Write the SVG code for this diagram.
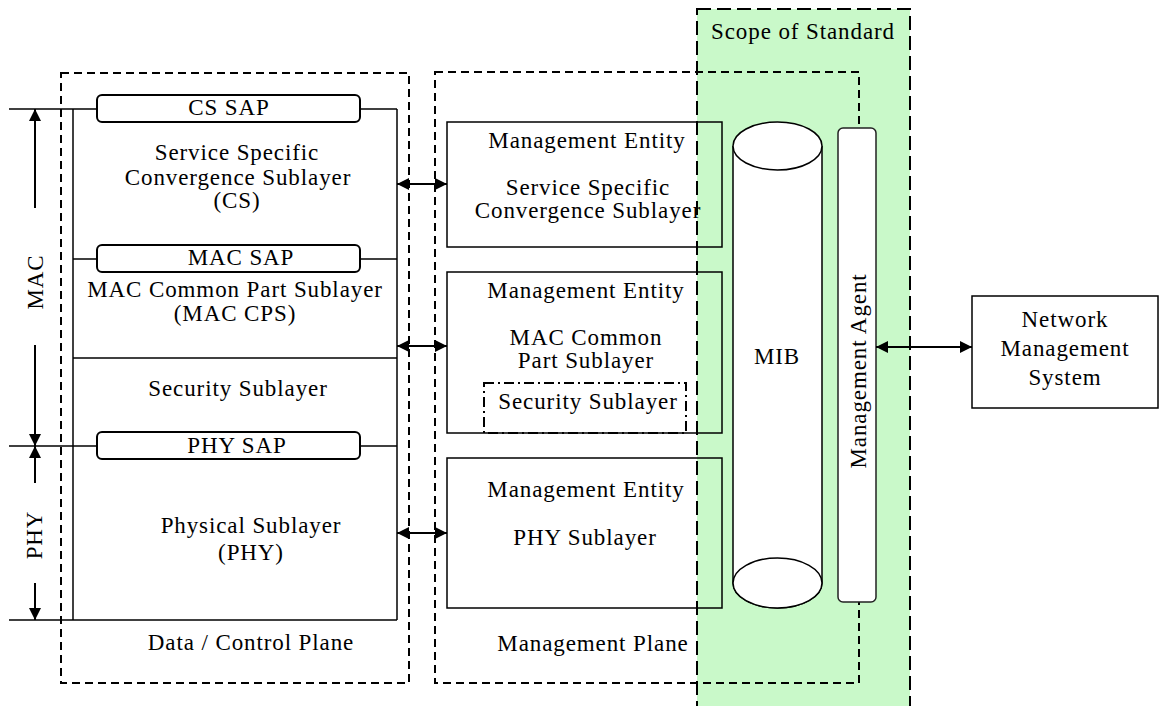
<svg xmlns="http://www.w3.org/2000/svg" width="1159" height="706" viewBox="0 0 1159 706">
<style>
text{font-family:"Liberation Serif","Times New Roman",serif;font-size:23px;letter-spacing:0.9px;fill:#000;text-anchor:middle}
.thin{fill:none;stroke:#000;stroke-width:1.5}
.box{fill:none;stroke:#000;stroke-width:1.5}
.sap{fill:#fff;stroke:#000;stroke-width:2}
.dash{fill:none;stroke:#000;stroke-width:2;stroke-dasharray:8 5}
.scope{fill:#c9f9c9;stroke:#000;stroke-width:2;stroke-dasharray:14 6}
.conn{stroke:#000;stroke-width:2;fill:none}
</style>
<defs>
<marker id="ah" viewBox="0 0 12 12" refX="12" refY="6" markerWidth="12" markerHeight="12" markerUnits="userSpaceOnUse" orient="auto-start-reverse">
<path d="M0,0 L12,6 L0,12 Z" fill="#000"/>
</marker>
</defs>
<rect width="1159" height="706" fill="#fff"/>

<g id="scope">
<rect class="scope" x="697" y="9" width="213" height="710"/>
<text x="803" y="39">Scope of Standard</text>
</g>

<g id="data-control-plane">
<rect class="dash" x="61" y="73" width="348" height="610"/>
<text x="251" y="650">Data / Control Plane</text>
</g>

<g id="management-plane">
<rect class="dash" x="435" y="72" width="424" height="611"/>
<text x="593" y="651">Management Plane</text>
</g>

<g id="layer-stack">
<line class="thin" x1="9" y1="109" x2="97" y2="109"/>
<line class="thin" x1="360" y1="109" x2="397" y2="109"/>
<line class="thin" x1="73" y1="109" x2="73" y2="620"/>
<line class="thin" x1="397" y1="109" x2="397" y2="620"/>
<line class="thin" x1="73" y1="259" x2="97" y2="259"/>
<line class="thin" x1="360" y1="259" x2="397" y2="259"/>
<line class="thin" x1="73" y1="358" x2="397" y2="358"/>
<line class="thin" x1="9" y1="446" x2="97" y2="446"/>
<line class="thin" x1="360" y1="446" x2="397" y2="446"/>
<line class="thin" x1="9" y1="620" x2="397" y2="620"/>
</g>

<g id="cs-sap">
<rect class="sap" x="97" y="95" width="263" height="27" rx="5"/>
<text x="229" y="115">CS SAP</text>
</g>
<g id="cs">
<text x="237" y="160">Service Specific</text>
<text x="238" y="185">Convergence Sublayer</text>
<text x="237" y="208">(CS)</text>
</g>
<g id="mac-sap">
<rect class="sap" x="97" y="245" width="263" height="27" rx="5"/>
<text x="241" y="265">MAC SAP</text>
</g>
<g id="mac-cps">
<text x="235" y="297">MAC Common Part Sublayer</text>
<text x="235" y="321">(MAC CPS)</text>
</g>
<g id="security">
<text x="238" y="396">Security Sublayer</text>
</g>
<g id="phy-sap">
<rect class="sap" x="97" y="432" width="263" height="27" rx="5"/>
<text x="237" y="453">PHY SAP</text>
</g>
<g id="phy">
<text x="251" y="533">Physical Sublayer</text>
<text x="251" y="560">(PHY)</text>
</g>

<g id="mac-label">
<text transform="translate(43,282) rotate(-90)">MAC</text>
</g>
<g id="phy-label">
<text transform="translate(42,535) rotate(-90)">PHY</text>
</g>

<g id="me-cs">
<rect class="box" x="447" y="122" width="275" height="125"/>
<text x="587" y="148">Management Entity</text>
<text x="588" y="195">Service Specific</text>
<text x="588" y="218">Convergence Sublayer</text>
</g>
<g id="me-mac">
<rect class="box" x="447" y="272" width="275" height="161"/>
<text x="586" y="298">Management Entity</text>
<text x="586" y="345">MAC Common</text>
<text x="586" y="368">Part Sublayer</text>
</g>
<g id="me-security">
<rect x="484" y="383" width="202" height="50" fill="none" stroke="#000" stroke-width="2" stroke-dasharray="10 4 2 4"/>
<text x="588" y="409">Security Sublayer</text>
</g>
<g id="me-phy">
<rect class="box" x="447" y="458" width="275" height="150"/>
<text x="586" y="497">Management Entity</text>
<text x="585" y="545">PHY Sublayer</text>
</g>

<g id="mib">
<path d="M733,146 L733,583 A44.5,25 0 0 0 822,583 L822,146" fill="#fff" stroke="#000" stroke-width="1.5"/>
<ellipse cx="777.5" cy="146" rx="44.5" ry="24" fill="#fff" stroke="#000" stroke-width="1.5"/>
<ellipse cx="777.5" cy="583" rx="44.5" ry="25" fill="#fff" stroke="#000" stroke-width="1.5"/>
<text x="777" y="364">MIB</text>
</g>

<g id="management-agent">
<rect x="838" y="128" width="38" height="474" rx="5" fill="#fff" stroke="#222" stroke-width="1.5"/>
<text transform="translate(866,371) rotate(-90)">Management Agent</text>
</g>

<g id="nms">
<rect class="box" x="972" y="296" width="186" height="112" fill="#fff"/>
<text x="1065" y="327">Network</text>
<text x="1065" y="356">Management</text>
<text x="1065" y="385">System</text>
</g>

<g id="connectors">
<line class="conn" x1="397" y1="184" x2="447" y2="184" marker-start="url(#ah)" marker-end="url(#ah)"/>
<line class="conn" x1="397" y1="346" x2="447" y2="346" marker-start="url(#ah)" marker-end="url(#ah)"/>
<line class="conn" x1="397" y1="533" x2="447" y2="533" marker-start="url(#ah)" marker-end="url(#ah)"/>
<line class="conn" x1="876" y1="347" x2="972" y2="347" marker-start="url(#ah)" marker-end="url(#ah)"/>
<line class="conn" x1="35" y1="208" x2="35" y2="109" marker-end="url(#ah)"/>
<line class="conn" x1="35" y1="345" x2="35" y2="446" marker-end="url(#ah)"/>
<line class="conn" x1="35" y1="483" x2="35" y2="446" marker-end="url(#ah)"/>
<line class="conn" x1="35" y1="583" x2="35" y2="620" marker-end="url(#ah)"/>
</g>
</svg>
